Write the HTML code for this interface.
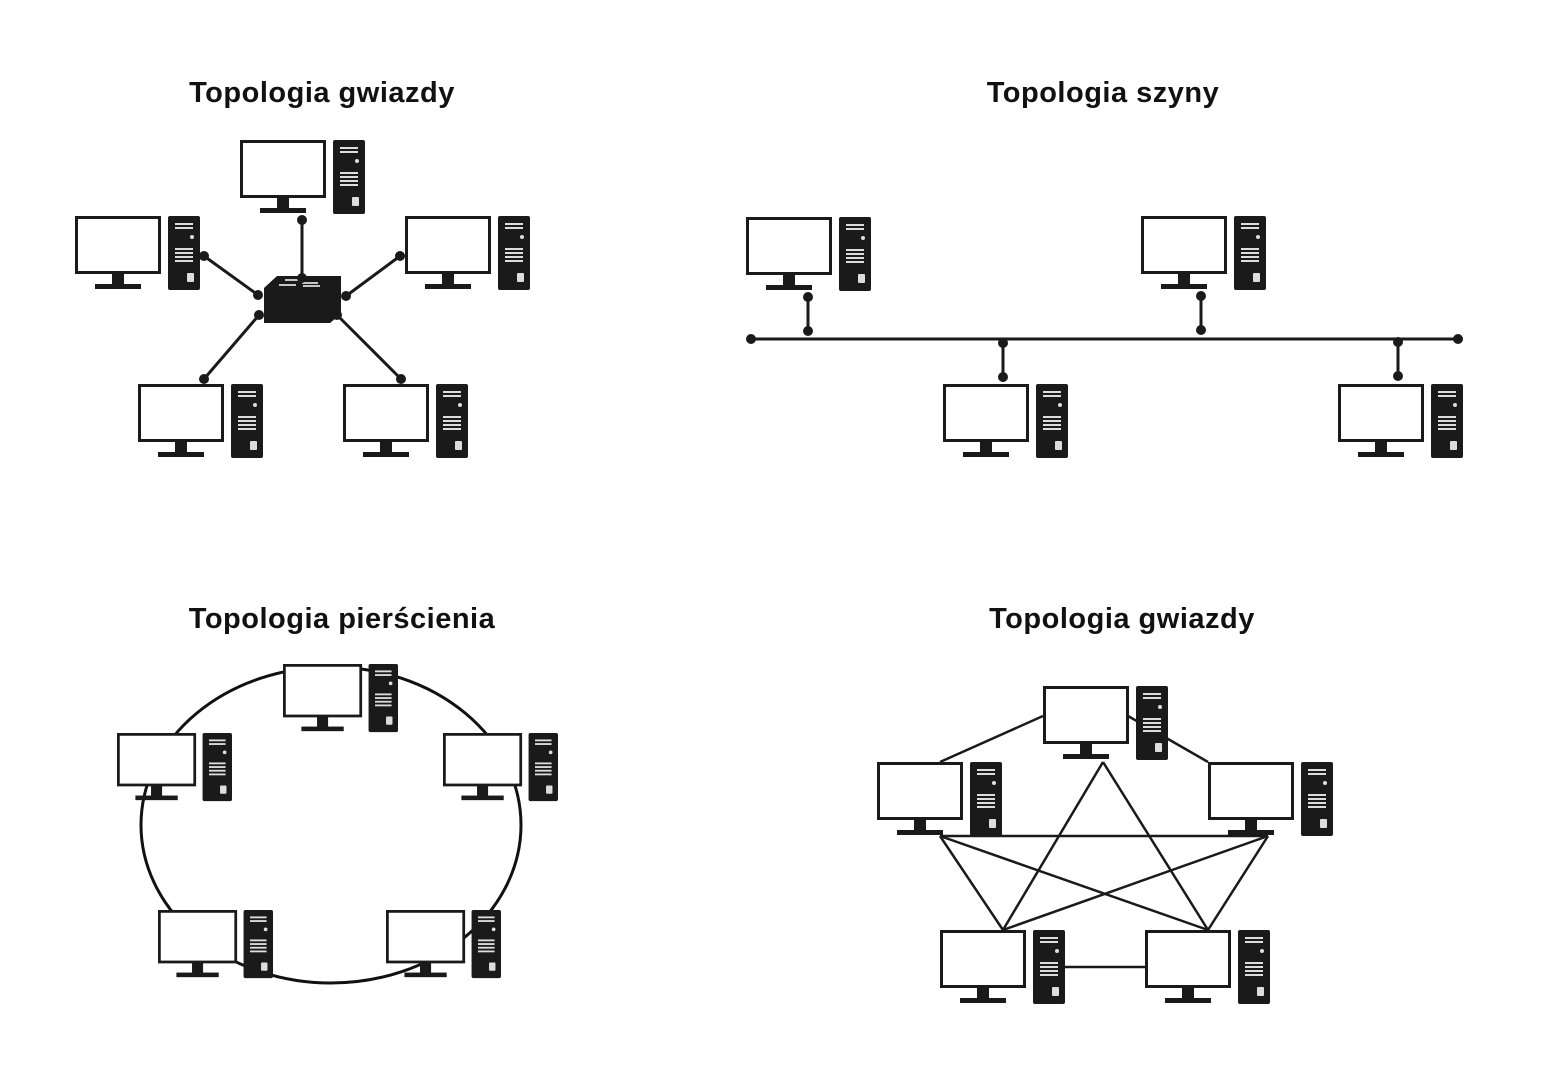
<!DOCTYPE html>
<html><head><meta charset="utf-8"><style>
body{margin:0;background:#fff;}
svg{display:block}
text{font-family:"Liberation Sans",sans-serif;font-weight:bold;font-size:29px;fill:#111;text-anchor:middle;letter-spacing:0.5px}
</style></head><body>
<svg width="1551" height="1080" viewBox="0 0 1551 1080">
<defs>
<g id="pc">
<rect x="1.5" y="1.5" width="83" height="55" fill="#fff" stroke="#1a1a1a" stroke-width="3"/>
<rect x="37" y="57" width="12" height="12" fill="#1a1a1a"/>
<rect x="20" y="68" width="46" height="5" fill="#1a1a1a"/>
<rect x="93" y="0" width="32" height="74" rx="2" fill="#1a1a1a"/>
<g fill="#ddd"><rect x="100" y="7" width="18" height="2"/><rect x="100" y="11" width="18" height="2"/>
<circle cx="117" cy="21" r="2"/>
<rect x="100" y="32" width="18" height="2"/><rect x="100" y="36" width="18" height="2"/><rect x="100" y="40" width="18" height="2"/><rect x="100" y="44" width="18" height="2"/>
<rect x="112" y="57" width="7" height="9" rx="1"/></g>
</g>
</defs>
<text x="322" y="102">Topologia gwiazdy</text>
<text x="1103" y="102">Topologia szyny</text>
<text x="342" y="628">Topologia pierścienia</text>
<text x="1122" y="628">Topologia gwiazdy</text>

<!-- star -->
<g stroke="#1a1a1a" stroke-width="3">
<line x1="302" y1="220" x2="302" y2="278"/>
<line x1="204" y1="256" x2="258" y2="295"/>
<line x1="400" y1="256" x2="346" y2="296"/>
<line x1="204" y1="379" x2="259" y2="315"/>
<line x1="401" y1="379" x2="337" y2="315"/>
</g>
<use href="#pc" x="240" y="140"/>
<use href="#pc" x="75" y="216"/>
<use href="#pc" x="405" y="216"/>
<use href="#pc" x="138" y="384"/>
<use href="#pc" x="343" y="384"/>
<polygon points="277,276 341,276 341,314 330,323 264,323 264,288" fill="#1a1a1a"/>
<g stroke="#fff" stroke-width="1.5"><line x1="285" y1="280" x2="302" y2="280"/><line x1="302" y1="283" x2="318" y2="283"/><line x1="279" y1="285" x2="296" y2="285"/><line x1="303" y1="286" x2="320" y2="286"/></g>
<g fill="#1a1a1a">
<circle cx="302" cy="220" r="5"/><circle cx="302" cy="278" r="5"/>
<circle cx="204" cy="256" r="5"/><circle cx="258" cy="295" r="5"/>
<circle cx="400" cy="256" r="5"/><circle cx="346" cy="296" r="5"/>
<circle cx="204" cy="379" r="5"/><circle cx="259" cy="315" r="5"/>
<circle cx="401" cy="379" r="5"/><circle cx="337" cy="315" r="5"/>
</g>

<!-- bus -->
<use href="#pc" x="746" y="217"/>
<use href="#pc" x="1141" y="216"/>
<use href="#pc" x="943" y="384"/>
<use href="#pc" x="1338" y="384"/>
<g stroke="#1a1a1a" stroke-width="3">
<line x1="751" y1="339" x2="1458" y2="339"/>
<line x1="808" y1="297" x2="808" y2="331"/>
<line x1="1201" y1="296" x2="1201" y2="330"/>
<line x1="1003" y1="343" x2="1003" y2="377"/>
<line x1="1398" y1="342" x2="1398" y2="376"/>
</g>
<g fill="#1a1a1a">
<circle cx="751" cy="339" r="5"/><circle cx="1458" cy="339" r="5"/>
<circle cx="808" cy="297" r="5"/><circle cx="808" cy="331" r="5"/>
<circle cx="1201" cy="296" r="5"/><circle cx="1201" cy="330" r="5"/>
<circle cx="1003" cy="343" r="5"/><circle cx="1003" cy="377" r="5"/>
<circle cx="1398" cy="342" r="5"/><circle cx="1398" cy="376" r="5"/>
</g>

<!-- ring -->
<ellipse cx="331" cy="825" rx="190" ry="158" fill="none" stroke="#111" stroke-width="3"/>
<g transform="translate(283,664) scale(0.92,0.92)"><use href="#pc"/></g>
<g transform="translate(117,733) scale(0.92,0.92)"><use href="#pc"/></g>
<g transform="translate(443,733) scale(0.92,0.92)"><use href="#pc"/></g>
<g transform="translate(158,910) scale(0.92,0.92)"><use href="#pc"/></g>
<g transform="translate(386,910) scale(0.92,0.92)"><use href="#pc"/></g>

<!-- mesh -->
<g stroke="#1a1a1a" stroke-width="2.5" fill="none">
<line x1="1043" y1="716" x2="940" y2="762"/>
<line x1="1128" y1="716" x2="1208" y2="762"/>
<line x1="1103" y1="762" x2="1003" y2="930"/>
<line x1="1103" y1="762" x2="1208" y2="930"/>
<line x1="940" y1="836" x2="1268" y2="836"/>
<line x1="940" y1="836" x2="1208" y2="930"/>
<line x1="1268" y1="836" x2="1003" y2="930"/>
<line x1="940" y1="836" x2="1003" y2="930"/>
<line x1="1268" y1="836" x2="1208" y2="930"/>
<line x1="1064" y1="967" x2="1145" y2="967"/>
</g>
<use href="#pc" x="1043" y="686"/>
<use href="#pc" x="877" y="762"/>
<use href="#pc" x="1208" y="762"/>
<use href="#pc" x="940" y="930"/>
<use href="#pc" x="1145" y="930"/>
</svg>
</body></html>
